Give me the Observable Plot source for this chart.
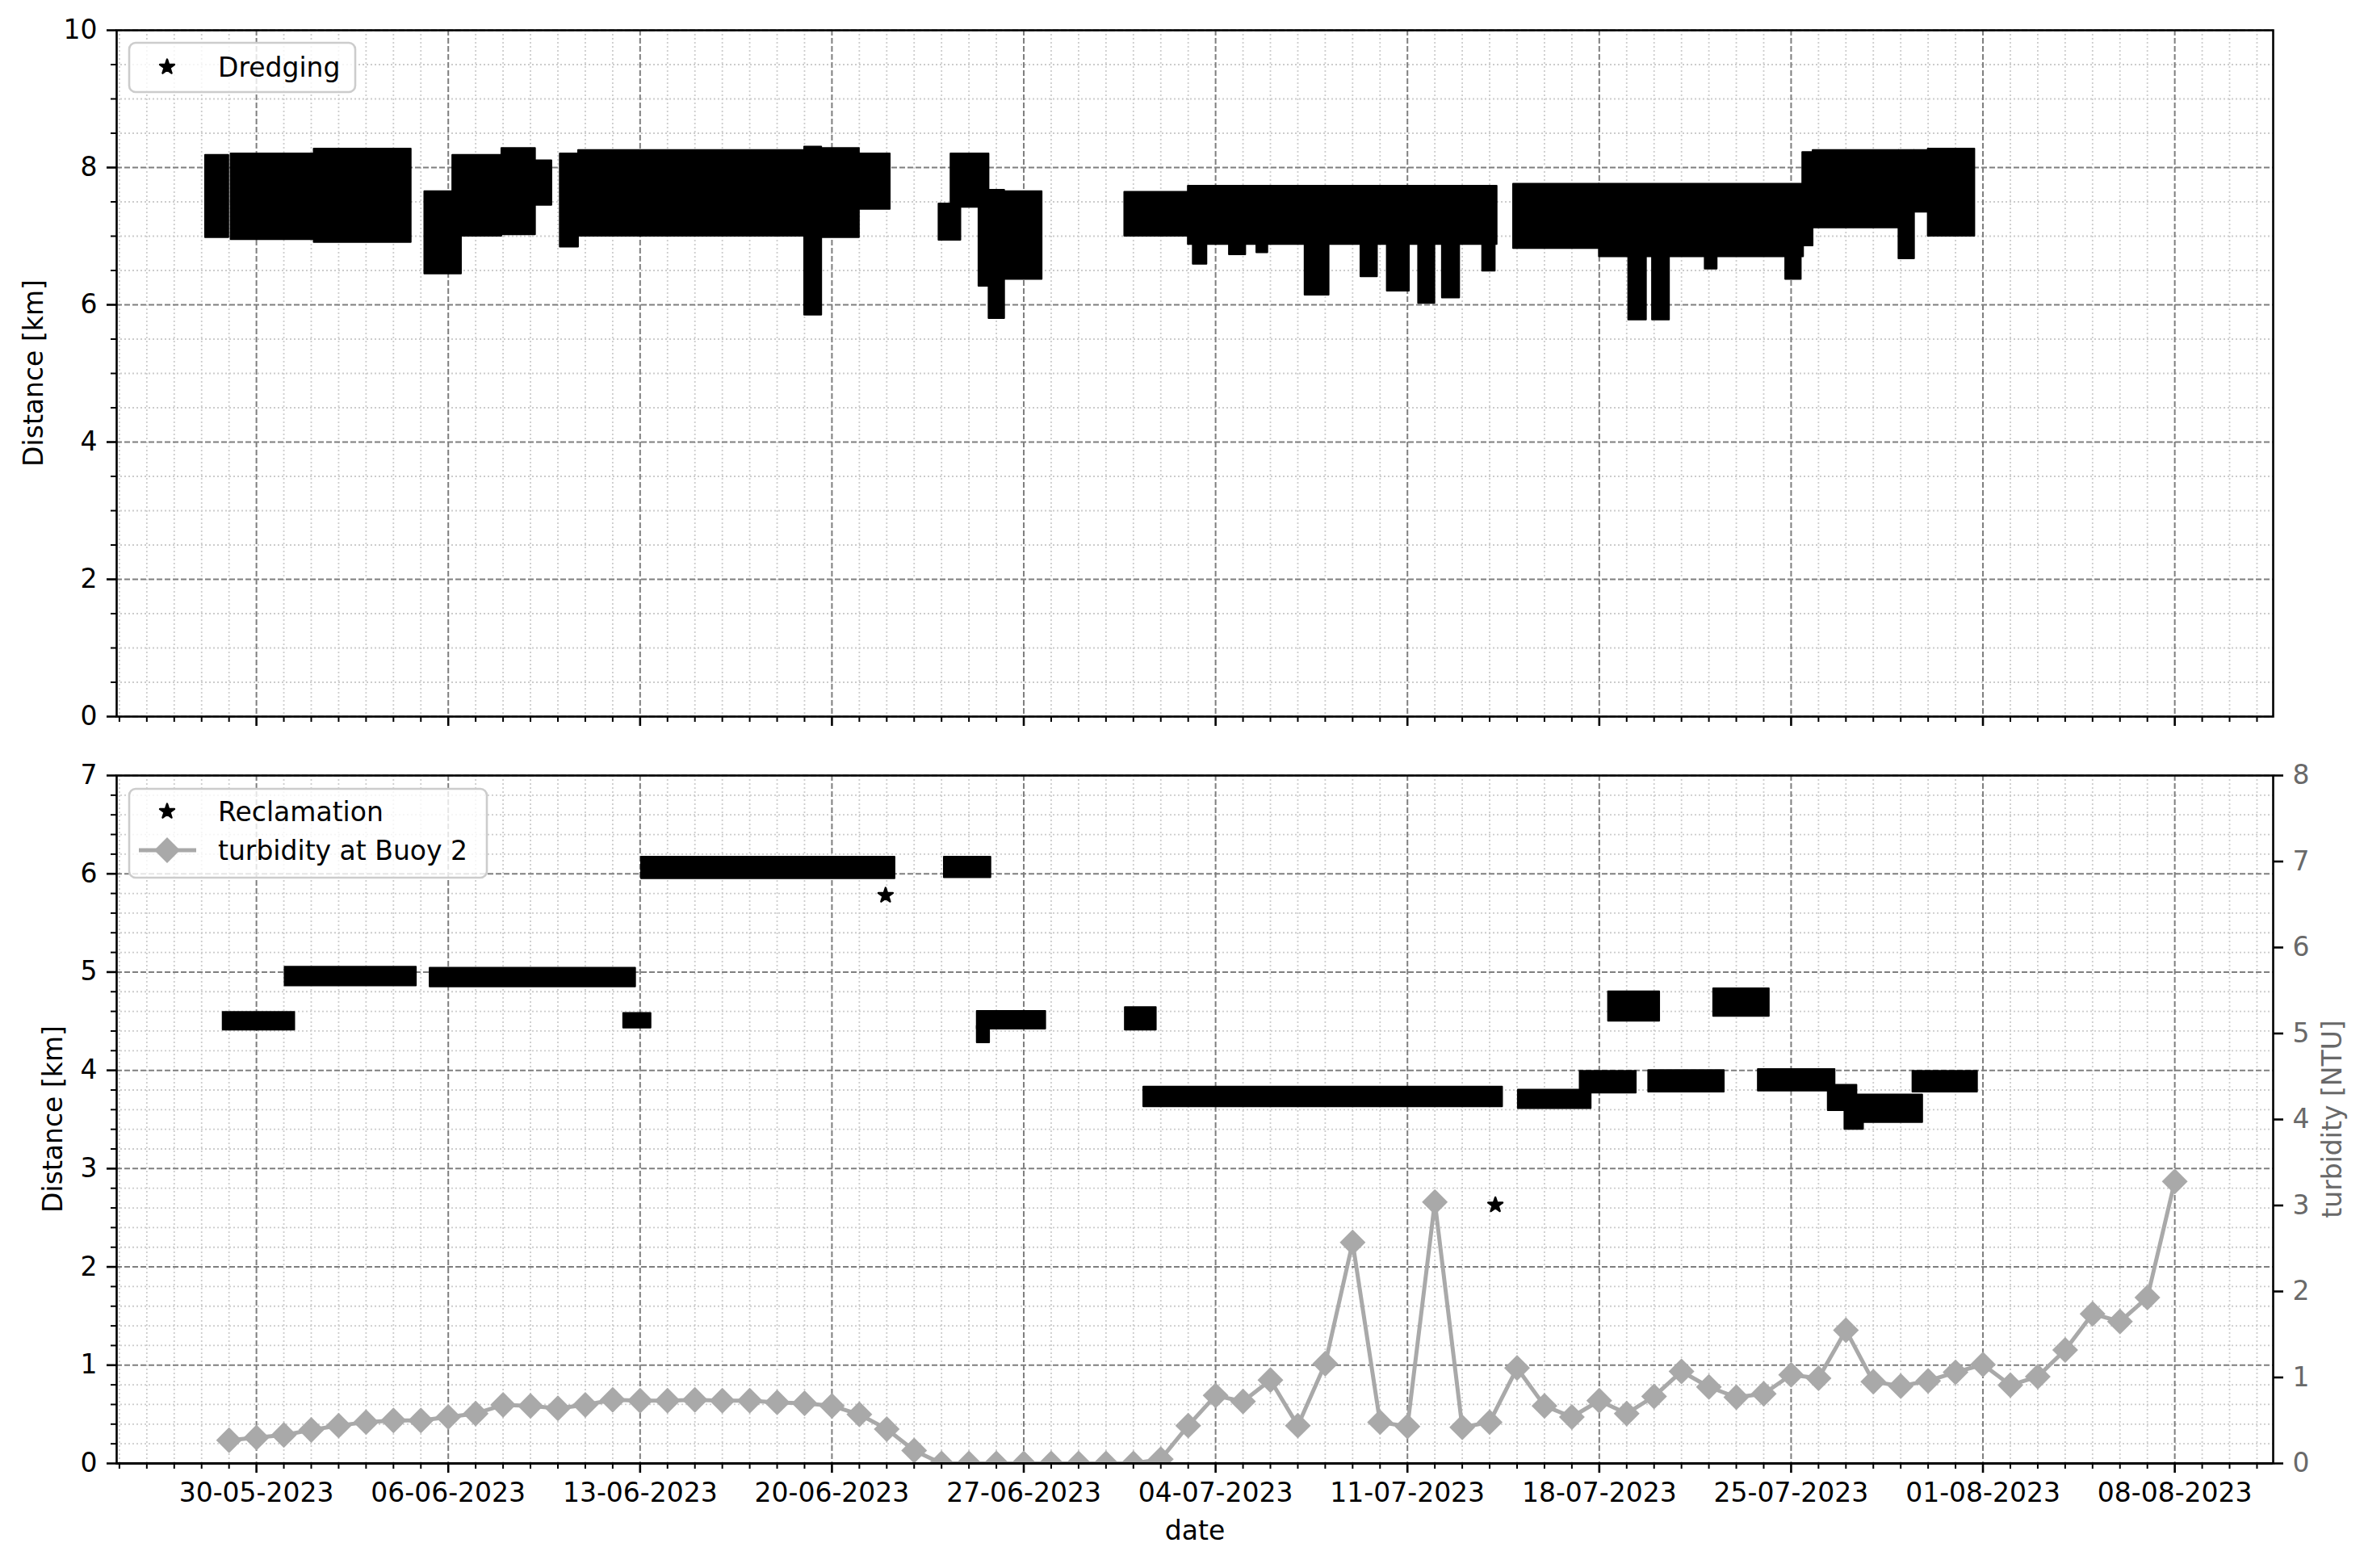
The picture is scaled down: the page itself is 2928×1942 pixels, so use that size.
<!DOCTYPE html>
<html><head><meta charset="utf-8">
<script src="https://cdn.jsdelivr.net/npm/d3@7"></script>
<script src="https://cdn.jsdelivr.net/npm/@observablehq/plot@0.6"></script>
<style>
html,body{margin:0;padding:0;background:#fff;overflow:hidden;}
#wrap{position:relative;width:2928px;height:1942px;font-family:"DejaVu Sans",sans-serif;}
#wrap > svg{position:absolute;left:0;}
</style></head><body><div id="wrap"></div>
<script>
// ---------------- DATA ----------------
const tickDates = ["2023-05-30","2023-06-06","2023-06-13","2023-06-20","2023-06-27","2023-07-04","2023-07-11","2023-07-18","2023-07-25","2023-08-01","2023-08-08"];
const yTicksTop = [0,2,4,6,8,10];
const yTicksBottom = [0,1,2,3,4,5,6,7];
const yTicksTurb = [0,1,2,3,4,5,6,7,8];

// Dredging: blocks of dense star markers (start, end, lowest km, highest km)
const dredgeStart = ["2023-05-28 03:20","2023-05-29 01:40","2023-06-01 02:30","2023-06-05 03:20","2023-06-06 03:50","2023-06-07 22:50","2023-06-09 04:20","2023-06-10 02:00","2023-06-10 18:00","2023-06-19 00:00","2023-06-19 15:00","2023-06-21 00:00","2023-06-23 21:40","2023-06-24 08:10","2023-06-25 08:40","2023-06-25 17:30","2023-06-26 07:10","2023-06-30 16:20","2023-07-03 00:00","2023-07-03 04:20","2023-07-04 12:00","2023-07-05 12:00","2023-07-07 06:15","2023-07-09 07:10","2023-07-10 06:15","2023-07-11 09:40","2023-07-12 06:30","2023-07-13 17:45","2023-07-14 20:50","2023-07-18 00:00","2023-07-19 01:40","2023-07-19 22:30","2023-07-21 20:40","2023-07-24 19:10","2023-07-25 10:05","2023-07-25 19:10","2023-07-28 22:20","2023-07-29 12:00","2023-07-30 00:00"];
const dredgeEnd   = ["2023-05-28 23:45","2023-06-01 02:30","2023-06-04 15:30","2023-06-06 11:30","2023-06-07 22:50","2023-06-09 04:20","2023-06-09 18:40","2023-06-10 18:00","2023-06-19 00:00","2023-06-19 15:00","2023-06-21 00:00","2023-06-22 03:00","2023-06-24 16:50","2023-06-25 17:30","2023-06-25 17:30","2023-06-26 07:10","2023-06-27 16:00","2023-07-03 00:00","2023-07-14 06:30","2023-07-03 16:20","2023-07-05 02:20","2023-07-05 21:40","2023-07-08 03:20","2023-07-09 21:40","2023-07-11 01:40","2023-07-12 00:00","2023-07-12 21:40","2023-07-14 04:50","2023-07-18 00:00","2023-07-25 10:50","2023-07-19 17:15","2023-07-20 13:25","2023-07-22 07:10","2023-07-25 08:50","2023-07-25 19:10","2023-07-28 22:20","2023-07-29 12:00","2023-07-30 00:00","2023-07-31 16:50"];
const dredgeLow   = [6.98,6.95,6.91,6.45,7.00,7.02,7.45,6.84,7.00,5.85,6.98,7.39,6.94,7.42,6.27,5.80,6.37,7.00,6.88,6.59,6.73,6.76,6.14,6.41,6.20,6.02,6.10,6.49,6.82,6.70,5.78,5.78,6.52,6.37,6.86,7.12,6.67,7.35,7.00];
const dredgeHigh  = [8.18,8.20,8.27,7.65,8.18,8.28,8.10,8.20,8.25,8.30,8.28,8.20,7.47,8.20,7.67,7.67,7.65,7.64,7.73,7.70,7.70,7.70,7.70,7.70,7.70,7.70,7.70,7.70,7.76,7.76,7.70,7.70,7.70,7.70,8.22,8.25,8.25,8.25,8.27];

// Reclamation: clusters of dense star markers
const reclStart = ["2023-05-28 18:45","2023-05-31 01:00","2023-06-05 08:00","2023-06-12 09:30","2023-06-13 01:10","2023-06-24 02:20","2023-06-25 07:10","2023-06-25 07:10","2023-06-30 16:50","2023-07-01 09:00","2023-07-15 01:00","2023-07-17 07:10","2023-07-18 08:00","2023-07-19 19:10","2023-07-22 04:05","2023-07-23 19:10","2023-07-26 08:25","2023-07-26 23:00","2023-07-27 07:10","2023-07-29 10:35"];
const reclEnd   = ["2023-05-31 09:30","2023-06-04 20:00","2023-06-12 20:00","2023-06-13 09:30","2023-06-22 07:10","2023-06-25 19:10","2023-06-27 19:10","2023-06-25 18:00","2023-07-01 20:00","2023-07-14 11:15","2023-07-17 16:50","2023-07-19 08:20","2023-07-20 04:50","2023-07-22 13:25","2023-07-24 04:50","2023-07-26 14:25","2023-07-27 09:35","2023-07-27 15:20","2023-07-29 19:10","2023-07-31 19:10"];
const reclLow   = [4.41,4.86,4.85,4.43,5.95,5.96,4.42,4.28,4.41,3.63,3.61,3.77,4.50,3.78,4.55,3.79,3.59,3.40,3.47,3.78];
const reclHigh  = [4.59,5.05,5.04,4.58,6.17,6.17,4.60,4.45,4.64,3.83,3.80,3.99,4.80,4.00,4.83,4.01,3.85,3.58,3.75,3.99];
const reclSingleTime = ["2023-06-21 23:00","2023-07-14 05:00"];
const reclSingleKm   = [5.78,2.63];

// Turbidity at Buoy 2: daily values from 29-05-2023 to 08-08-2023 [NTU]
const turbFirstDay = "2023-05-29";
const turbValues = [0.27,0.30,0.33,0.39,0.44,0.48,0.50,0.50,0.54,0.58,
  0.68,0.67,0.64,0.68,0.74,0.73,0.73,0.74,0.73,0.73,
  0.71,0.70,0.67,0.57,0.40,0.15,0.00,0.00,0.00,0.00,
  0.00,0.00,0.00,0.00,0.05,0.44,0.79,0.72,0.97,0.44,
  1.16,2.57,0.48,0.43,3.04,0.42,0.48,1.11,0.67,0.54,
  0.73,0.58,0.78,1.07,0.89,0.77,0.81,1.03,0.99,1.55,
  0.95,0.90,0.96,1.06,1.15,0.91,1.01,1.32,1.74,1.65,
  1.93,3.28];

// ---------------- BUILD ----------------
const parseT = d3.utcParse("%Y-%m-%d %H:%M");
const parseD = d3.utcParse("%Y-%m-%d");
const fmt = d3.utcFormat("%d-%m-%Y");
const xDomain = [parseT("2023-05-24 21:36"), parseT("2023-08-11 14:10")];
const majorX = tickDates.map(parseD);
const majorSet = new Set(majorX.map(d => +d));
const minorX = d3.utcDay.range(parseD("2023-05-25"), parseD("2023-08-12")).filter(d => !majorSet.has(+d));
const minorYTop = d3.range(0, 10.001, 0.5).map(v => +v.toFixed(2)).filter(v => !yTicksTop.includes(v));
const minorYBot = d3.range(0, 7.001, 0.2).map(v => +v.toFixed(2)).filter(v => !yTicksBottom.includes(v));

const dredging = dredgeStart.map((s, i) => ({x1: parseT(s), x2: parseT(dredgeEnd[i]), y1: dredgeLow[i], y2: dredgeHigh[i]}));
const reclamation = reclStart.map((s, i) => ({x1: parseT(s), x2: parseT(reclEnd[i]), y1: reclLow[i], y2: reclHigh[i]}));
const reclSingles = reclSingleTime.map((s, i) => ({x: parseT(s), y: reclSingleKm[i]}));
const turbDays = d3.utcDay.range(parseD(turbFirstDay), d3.utcDay.offset(parseD(turbFirstDay), turbValues.length));
const turbidity = turbValues.map((v, i) => ({x: turbDays[i], y: v}));

const FONT = "DejaVu Sans";
const MAJ = {stroke: "#7f7f7f", strokeWidth: 2, strokeDasharray: "7,3", strokeOpacity: 1};
const MIN = {stroke: "#cccccc", strokeWidth: 1.8, strokeDasharray: "2,3", strokeOpacity: 1};
const TURB = "#a9a9a9";
const W = 2928, ML = 144, MR = 113;
const style = {fontFamily: FONT, fontSize: "33px", background: "transparent", overflow: "visible", color: "black"};
const blank = () => "";

const topPlot = Plot.plot({
  width: W, height: 940, marginLeft: ML, marginRight: MR, marginTop: 37, marginBottom: 53,
  style,
  x: {type: "utc", domain: xDomain},
  y: {domain: [0, 10]},
  marks: [
    Plot.gridX(minorX, MIN), Plot.gridY(minorYTop, MIN),
    Plot.gridX(majorX, MAJ), Plot.gridY(yTicksTop, MAJ),
    Plot.rect(dredging, {x1: "x1", x2: "x2", y1: "y1", y2: "y2", fill: "black", stroke: "black", strokeWidth: 2, strokeLinejoin: "round", inset: 0}),
    Plot.frame({stroke: "black", strokeWidth: 2.6}),
    Plot.axisX(majorX, {tickSize: 12, strokeWidth: 2.6, tickFormat: blank, label: null}),
    Plot.axisX(minorX, {tickSize: 7, strokeWidth: 2, tickFormat: blank, label: null}),
    Plot.axisY(yTicksTop, {tickSize: 12, tickPadding: 12, strokeWidth: 2.6, fontSize: 33, tickFormat: d => String(d), label: null}),
    Plot.axisY(minorYTop, {tickSize: 7, strokeWidth: 2, tickFormat: blank, label: null})
  ]
});
topPlot.style.top = "0px";

const botPlot = Plot.plot({
  width: W, height: 1002, marginLeft: ML, marginRight: MR, marginTop: 20, marginBottom: 130,
  style,
  x: {type: "utc", domain: xDomain},
  y: {domain: [0, 7]},
  marks: [
    Plot.gridX(minorX, MIN), Plot.gridY(minorYBot, MIN),
    Plot.gridX(majorX, MAJ), Plot.gridY(yTicksBottom, MAJ),
    Plot.rect(reclamation, {x1: "x1", x2: "x2", y1: "y1", y2: "y2", fill: "black", stroke: "black", strokeWidth: 2, strokeLinejoin: "round", inset: 0}),
    Plot.dot(reclSingles, {x: "x", y: "y", symbol: "star", r: 5.6, fill: "black", stroke: "black", strokeWidth: 2.5, strokeLinejoin: "round"}),
    Plot.frame({stroke: "black", strokeWidth: 2.6}),
    Plot.axisX(majorX, {tickSize: 12, tickPadding: 12, strokeWidth: 2.6, fontSize: 33, tickFormat: fmt, label: null}),
    Plot.axisX(minorX, {tickSize: 7, strokeWidth: 2, tickFormat: blank, label: null}),
    Plot.axisY(yTicksBottom, {tickSize: 12, tickPadding: 12, strokeWidth: 2.6, fontSize: 33, tickFormat: d => String(d), label: null}),
    Plot.axisY(minorYBot, {tickSize: 7, strokeWidth: 2, tickFormat: blank, label: null})
  ]
});
botPlot.style.top = "940px";

const turbPlot = Plot.plot({
  width: W, height: 1002, marginLeft: ML, marginRight: MR, marginTop: 20, marginBottom: 130,
  style,
  x: {type: "utc", domain: xDomain, axis: null},
  y: {domain: [0, 8]},
  marks: [
    Plot.line(turbidity, {x: "x", y: "y", stroke: TURB, strokeWidth: 5, clip: true}),
    Plot.dot(turbidity, {x: "x", y: "y", symbol: "diamond2", r: 14.4, fill: TURB, stroke: "none", clip: true}),
    Plot.ruleY([0], {stroke: "black", strokeWidth: 3}),
    Plot.axisY(yTicksTurb, {anchor: "right", tickSize: 12, strokeWidth: 2.6, tickFormat: blank, label: null}),
    Plot.axisY(yTicksTurb, {anchor: "right", tickSize: 0, tickPadding: 24, fontSize: 33, fill: "#696969", color: "#696969", tickFormat: d => String(d), label: null})
  ]
});
turbPlot.style.top = "940px";

const wrap = document.getElementById("wrap");
wrap.appendChild(topPlot);
wrap.appendChild(botPlot);
wrap.appendChild(turbPlot);

// ---------------- LABELS & LEGENDS ----------------
const ov = d3.select(wrap).append("svg")
  .attr("width", W).attr("height", 1942)
  .style("top", "0px").style("pointer-events", "none")
  .attr("font-family", FONT).attr("font-size", 33);

function vlabel(x, y, t, fill) {
  ov.append("text").attr("transform", `translate(${x},${y}) rotate(-90)`)
    .attr("text-anchor", "middle").attr("dominant-baseline", "central")
    .attr("fill", fill).text(t);
}
vlabel(41, 462, "Distance [km]", "black");
vlabel(65, 1386, "Distance [km]", "black");
vlabel(2888, 1386, "turbidity [NTU]", "#696969");
ov.append("text").attr("x", 1480).attr("y", 1895).attr("text-anchor", "middle")
  .attr("dominant-baseline", "central").attr("fill", "black").text("date");

const starPath = d3.symbol(d3.symbolStar, Math.PI * 5.6 * 5.6)();
function legendBox(x, y, w, h) {
  ov.append("rect").attr("x", x).attr("y", y).attr("width", w).attr("height", h)
    .attr("rx", 8).attr("fill", "white").attr("fill-opacity", 0.8)
    .attr("stroke", "#cccccc").attr("stroke-width", 2.6);
}
function legendStar(x, y) {
  ov.append("path").attr("d", starPath).attr("transform", `translate(${x},${y})`)
    .attr("fill", "black").attr("stroke", "black").attr("stroke-width", 2.5).attr("stroke-linejoin", "round");
}
function legendText(x, y, t) {
  ov.append("text").attr("x", x).attr("y", y).attr("dominant-baseline", "central").attr("fill", "black").text(t);
}
// top legend
legendBox(160, 53, 280, 61);
legendStar(207, 83);
legendText(270, 83, "Dredging");
// bottom legend
legendBox(160, 977, 443, 110);
legendStar(207, 1005);
legendText(270, 1005, "Reclamation");
ov.append("line").attr("x1", 172).attr("x2", 243).attr("y1", 1053).attr("y2", 1053)
  .attr("stroke", TURB).attr("stroke-width", 5);
ov.append("path").attr("d", "M207,1037L223,1053L207,1069L191,1053Z").attr("fill", TURB);
legendText(270, 1053, "turbidity at Buoy 2");
</script></body></html>
